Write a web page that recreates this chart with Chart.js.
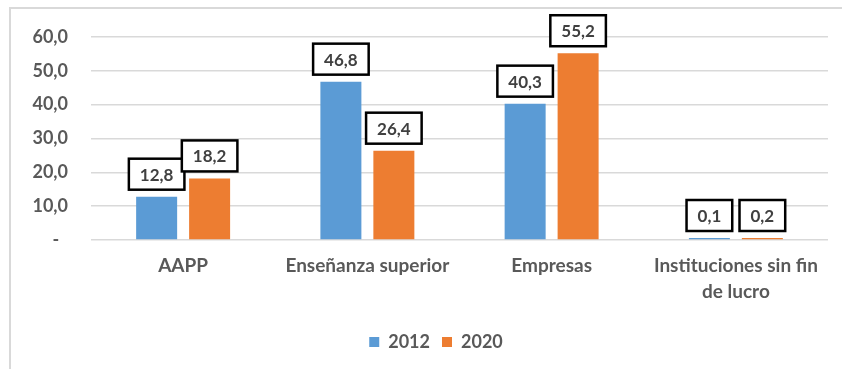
<!DOCTYPE html>
<html>
<head>
<meta charset="utf-8">
<script src="https://cdn.jsdelivr.net/npm/chart.js@4.4.1/dist/chart.umd.min.js"></script>
<style>
  html, body { margin: 0; padding: 0; background: #fff; }
  #wrap { position: relative; width: 842px; height: 369px; overflow: hidden; }
  #frame { position: absolute; left: 9px; top: 7px; right: -4px; bottom: -4px;
           border-top: 2px solid #d9d9d9; border-left: 2px solid #d9d9d9; }
  canvas { position: absolute; left: 0; top: 0; }
</style>
</head>
<body>
<div id="wrap">
  <div id="frame"></div>
  <canvas id="chart" width="842" height="369"></canvas>
</div>
<script>
  const CATEGORIES = ['AAPP', 'Enseñanza superior', 'Empresas', ['Instituciones sin fin', 'de lucro']];
  const SERIES_2012 = [12.8, 46.8, 40.3, 0.1];
  const SERIES_2020 = [18.2, 26.4, 55.2, 0.2];
  const Y_TICKS = [0, 10, 20, 30, 40, 50, 60];

  const COLORS = {
    y2012: '#5b9bd5',
    y2020: '#ed7d31',
    grid: '#d9d9d9',
    text: '#595959',
    label: '#404040',
  };
  const FONT = "Lato, 'Open Sans', sans-serif";

  function fmt(v) { return v.toFixed(1).replace('.', ','); }

  // Boxed value labels above each bar
  const boxedLabels = {
    id: 'boxedLabels',
    afterDatasetsDraw(chart) {
      const ctx = chart.ctx;
      ctx.save();
      ctx.font = 'bold 17px ' + FONT;
      ctx.textAlign = 'center';
      ctx.textBaseline = 'middle';
      chart.data.datasets.forEach((ds, i) => {
        chart.getDatasetMeta(i).data.forEach((bar, j) => {
          const txt = fmt(ds.data[j]);
          const w = ctx.measureText(txt).width + 22;
          const h = 31;
          const bottom = bar.y - 7;
          const x = bar.x - w / 2, y = bottom - h;
          ctx.fillStyle = '#fff';
          ctx.fillRect(x, y, w, h);
          ctx.lineWidth = 2.5;
          ctx.strokeStyle = '#000';
          ctx.strokeRect(x, y, w, h);
          ctx.fillStyle = COLORS.label;
          ctx.fillText(txt, bar.x, y + h / 2 + 1);
        });
      });
      ctx.restore();
    },
  };

  // nudge the legend a little right so it sits under the plot rather than the canvas
  const legendNudge = {
    id: 'legendNudge',
    afterLayout(chart) { if (chart.legend) chart.legend.left += 44; },
  };

  new Chart(document.getElementById('chart'), {
    type: 'bar',
    data: {
      labels: CATEGORIES,
      datasets: [
        { label: '2012', data: SERIES_2012, backgroundColor: COLORS.y2012 },
        { label: '2020', data: SERIES_2020, backgroundColor: COLORS.y2020 },
      ],
    },
    options: {
      responsive: false,
      animation: false,
      events: [],
      categoryPercentage: 0.575,
      barPercentage: 0.774,
      minBarLength: 2,
      layout: { padding: { top: 37, right: 14, bottom: 8, left: 0 } },
      plugins: {
        tooltip: { enabled: false },
        legend: {
          position: 'bottom',
          labels: {
            color: COLORS.text,
            font: { family: FONT, size: 18, weight: 'bold' },
            boxWidth: 10,
            boxHeight: 10,
            padding: 12,
          },
        },
      },
      scales: {
        x: {
          grid: { display: false },
          border: { display: false },
          ticks: {
            color: COLORS.text,
            font: { family: FONT, size: 19, weight: 'bold', lineHeight: 1.35 },
            padding: 5,
            maxRotation: 0,
            autoSkip: false,
          },
          afterFit(scale) { scale.height = 81; },
        },
        y: {
          min: 0,
          max: 60,
          afterBuildTicks(scale) { scale.ticks = Y_TICKS.map(v => ({ value: v })); },
          grid: { color: COLORS.grid, lineWidth: 1.5, drawTicks: false },
          border: { display: false },
          ticks: {
            color: COLORS.text,
            font: { family: FONT, size: 18, weight: 'bold' },
            padding: 23,
            callback: v => (v === 0 ? '-  ' : fmt(v)),
          },
          afterFit(scale) { scale.width = 91; },
        },
      },
    },
    plugins: [boxedLabels, legendNudge],
  });
</script>
</body>
</html>
